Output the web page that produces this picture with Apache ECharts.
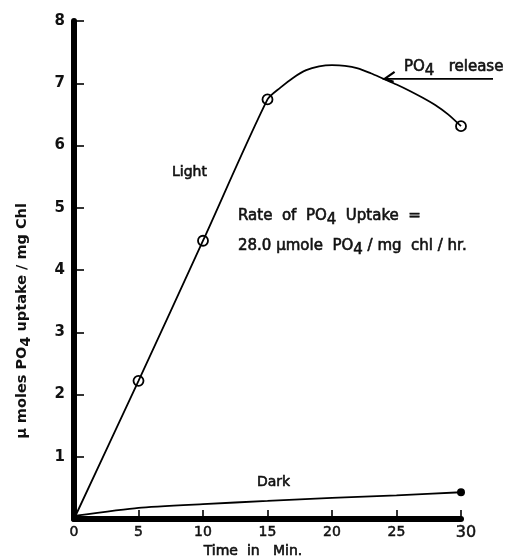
<!DOCTYPE html>
<html><head><meta charset="utf-8">
<script src="https://cdn.jsdelivr.net/npm/echarts@6/dist/echarts.min.js"></script>
<style>html,body{margin:0;padding:0;background:#fff}#c{width:507px;height:558px}</style>
</head><body><div id="c"></div><script>
// Light curve (minutes, µmoles PO4 / mg Chl)
const timeLight = [0, 5, 10, 15, 16, 17, 18, 19, 20, 21, 22, 23, 24, 25, 26, 27, 28, 29, 30];
const uptakeLight = [0, 2.22, 4.47, 6.74, 6.93, 7.09, 7.21, 7.27, 7.29, 7.28, 7.24, 7.16, 7.07, 6.98, 6.88, 6.77, 6.65, 6.50, 6.31];
const measuredLight = [5, 10, 15, 30];
// Dark curve
const timeDark = [0, 5, 10, 15, 20, 25, 30];
const uptakeDark = [0.05, 0.18, 0.24, 0.29, 0.34, 0.38, 0.43];
const measuredDark = [30];
// PO4 release pointer
const releasePoint = [24, 7.07];
// ticks
const xTicks = [0, 5, 10, 15, 20, 25, 30];
const yTicks = [0, 1, 2, 3, 4, 5, 6, 7, 8];

const FONT = 'DejaVu Sans';
const INK = '#111';
const chart = echarts.init(document.getElementById('c'), null, {renderer: 'canvas'});

const option = {
  backgroundColor: '#fff',
  animation: false,
  grid: {left: 74, top: 21, width: 387, height: 498, outerBoundsMode: 'none', containLabel: false},
  xAxis: {
    type: 'value', min: xTicks[0], max: xTicks[xTicks.length - 1], interval: 5,
    axisLine: {lineStyle: {color: '#000', width: 6}},
    axisTick: {inside: true, length: 9, lineStyle: {color: '#000', width: 1.6}},
    splitLine: {show: false},
    axisLabel: {
      color: INK, fontFamily: FONT, fontSize: 14, margin: 6,
      textBorderColor: INK, textBorderWidth: 0.5,
      formatter: v => v === 30 ? '{big|30}' : String(v),
      rich: {big: {fontFamily: FONT, fontSize: 16, color: INK, textBorderColor: INK, textBorderWidth: 0.5, padding: [0, 0, 1, 10]}}
    }
  },
  yAxis: {
    type: 'value', min: yTicks[0], max: yTicks[yTicks.length - 1], interval: 1,
    axisLine: {lineStyle: {color: '#000', width: 6}},
    axisTick: {inside: true, length: 10, lineStyle: {color: '#000', width: 1.6}},
    splitLine: {show: false},
    axisLabel: {
      color: INK, fontFamily: FONT, fontSize: 15, fontWeight: 'bold', margin: 9,
      formatter: v => v === 0 ? '' : String(v)
    }
  },
  series: [
    {
      name: 'Light', type: 'line', smooth: 0.25,
      data: timeLight.map((t, i) => [t, uptakeLight[i]]),
      showAllSymbol: true,
      symbol: v => measuredLight.includes(v[0]) ? 'circle' : 'none',
      symbolSize: 10,
      itemStyle: {color: 'rgba(255,255,255,0)', borderColor: '#000', borderWidth: 1.8},
      lineStyle: {color: '#000', width: 1.8},
      z: 3
    },
    {
      name: 'Dark', type: 'line', smooth: 0.2,
      data: timeDark.map((t, i) => [t, uptakeDark[i]]),
      showAllSymbol: true,
      symbol: v => measuredDark.includes(v[0]) ? 'circle' : 'none',
      symbolSize: 8,
      itemStyle: {color: '#000'},
      lineStyle: {color: '#000', width: 1.8},
      z: 3
    }
  ]
};
chart.setOption(option);

const p = chart.convertToPixel({gridIndex: 0}, releasePoint);
function txt(x, y, text, size, opts) {
  opts = opts || {};
  const weight = opts.bold ? 'bold ' : '';
  const subStyle = {fontFamily: FONT, fontSize: size, fontWeight: opts.bold ? 'bold' : 'normal',
    fill: INK, stroke: INK, lineWidth: opts.bold ? 0 : 0.6, padding: [Math.round(size * 0.6), 0, 0, 0]};
  return Object.assign({
    type: 'text', x, y,
    style: {
      text, fill: INK, stroke: INK, lineWidth: opts.bold ? 0 : 0.6,
      font: weight + size + 'px "' + FONT + '"',
      textAlign: opts.align || 'left', textVerticalAlign: 'middle',
      rich: {s: subStyle}
    }
  }, opts.el || {});
}

chart.setOption({
  graphic: [
    txt(172, 172, 'Light', 14),
    txt(257, 482, 'Dark', 14),
    txt(238, 216, 'Rate  of  PO{s|4}  Uptake  =', 15),
    txt(238, 246, '28.0 µmole  PO{s|4} / mg  chl / hr.', 15),
    txt(404, 67, 'PO{s|4}   release', 15),
    txt(253, 551, 'Time  in   Min.', 14, {align: 'center'}),
    txt(22, 321, 'µ moles PO{s|4} uptake / mg Chl', 14.5, {bold: true, align: 'center', el: {rotation: Math.PI / 2}}),
    {type: 'polyline', shape: {points: [[p[0] + 1, p[1]], [493, p[1]]]},
      style: {stroke: '#000', lineWidth: 1.8, fill: null}},
    {type: 'polyline', shape: {points: [[p[0] + 11, p[1] - 7], [p[0] + 1, p[1]], [p[0] + 10, p[1] + 3]]},
      style: {stroke: '#000', lineWidth: 2.2, fill: null}}
  ]
});
</script></body></html>
